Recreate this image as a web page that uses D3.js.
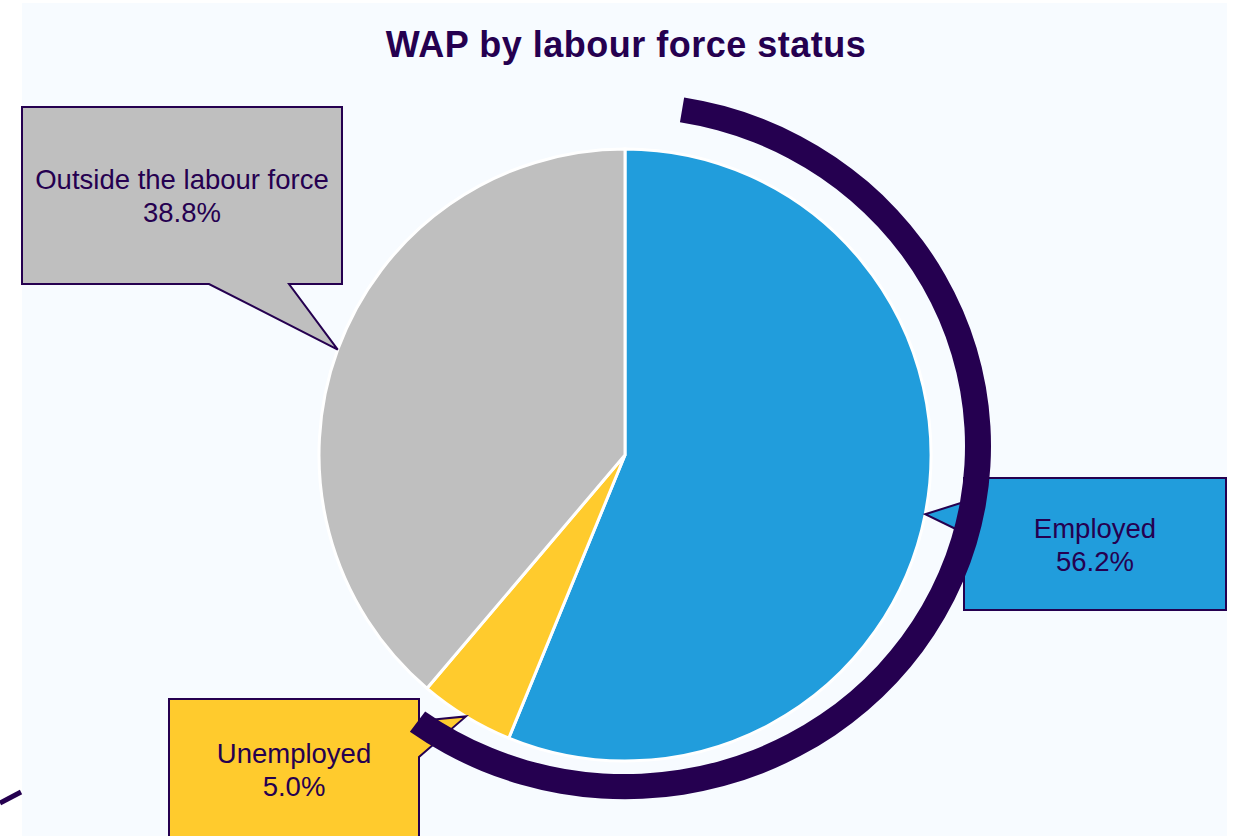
<!DOCTYPE html>
<html>
<head>
<meta charset="utf-8">
<script src="https://cdnjs.cloudflare.com/ajax/libs/d3/7.8.5/d3.min.js"></script>
<style>
  body { margin: 0; background: #ffffff; }
  svg { display: block; font-family: "Liberation Sans", Arial, sans-serif; }
</style>
</head>
<body>
<div id="chart"></div>
<script>
var categories = ["Employed", "Unemployed", "Outside the labour force"];
var shares = [56.2, 5.0, 38.8];
var sliceColors = ["#219ddc", "#ffcb2d", "#bfbfbf"];
var titleText = "WAP by labour force status";

var width = 1233;
var height = 836;
var dark = "#250050";

var center = { x: 625, y: 455 };
var radius = 306;

// callout boxes: rect + which side the pointer leaves from
var callouts = [
  { x: 964, y: 478, w: 262, h: 132, side: "left", b1: 24, b2: 55, ty: 60 },
  { x: 169, y: 699, w: 250, h: 150, side: "right", b1: 22, b2: 58, ty: 64 },
  { x: 22, y: 107, w: 320, h: 177, side: "bottom", b1: 187, b2: 267, ty: 82 }
];

var svg = d3.select("#chart")
  .append("svg")
  .attr("width", width)
  .attr("height", height);

svg.append("rect")
  .attr("x", 22).attr("y", 3)
  .attr("width", 1205).attr("height", height - 3)
  .style("fill", "#f7fbff");

// stray connector stub at the lower left
svg.append("line")
  .attr("x1", 0).attr("y1", 803)
  .attr("x2", 21).attr("y2", 792)
  .style("stroke", dark).style("stroke-width", 5);

svg.append("text")
  .attr("x", 626).attr("y", 57)
  .attr("text-anchor", "middle")
  .style("font-size", "36px").style("font-weight", "bold")
  .style("letter-spacing", "0.5px")
  .style("fill", dark)
  .text(titleText);

var pie = d3.pie().sort(null).value(function(d) { return d; });
var arcs = pie(shares);

var arc = d3.arc().innerRadius(0).outerRadius(radius);
var edgeArc = d3.arc().innerRadius(radius).outerRadius(radius);

var g = svg.append("g")
  .attr("transform", "translate(" + center.x + "," + center.y + ")");

g.selectAll("path.slice")
  .data(arcs)
  .enter()
  .append("path")
  .attr("class", "slice")
  .attr("d", arc)
  .style("fill", function(d, i) { return sliceColors[i]; })
  .style("stroke", "#ffffff")
  .style("stroke-width", 3);

//Callouts
arcs.forEach(function(d, i) {
  var c = callouts[i];
  var tip = edgeArc.centroid(d);
  var tx = center.x + tip[0];
  var ty = center.y + tip[1];
  var p;
  if (c.side == "left") {
    p = "M" + c.x + "," + c.y + "H" + (c.x + c.w) + "V" + (c.y + c.h) + "H" + c.x +
      "V" + (c.y + c.b2) + "L" + tx + "," + ty + "L" + c.x + "," + (c.y + c.b1) + "Z";
  } else if (c.side == "right") {
    p = "M" + c.x + "," + c.y + "H" + (c.x + c.w) + "V" + (c.y + c.b1) + "L" + tx + "," + ty +
      "L" + (c.x + c.w) + "," + (c.y + c.b2) + "V" + (c.y + c.h) + "H" + c.x + "Z";
  } else {
    p = "M" + c.x + "," + c.y + "H" + (c.x + c.w) + "V" + (c.y + c.h) + "H" + (c.x + c.b2) +
      "L" + tx + "," + ty + "L" + (c.x + c.b1) + "," + (c.y + c.h) + "H" + c.x + "Z";
  }
  svg.append("path")
    .attr("d", p)
    .style("fill", sliceColors[i])
    .style("stroke", dark)
    .style("stroke-width", 2);

  var t = svg.append("text")
    .attr("text-anchor", "middle")
    .style("font-size", "27.5px")
    .style("fill", dark);
  t.append("tspan").attr("x", c.x + c.w / 2).attr("y", c.y + c.ty).text(categories[i]);
  t.append("tspan").attr("x", c.x + c.w / 2).attr("y", c.y + c.ty + 33).text(d3.format(".1f")(shares[i]) + "%");
});

// labour force bracket, a slightly flattened ring drawn over everything
var bracket = d3.arc()
  .innerRadius(340)
  .outerRadius(366)
  .startAngle(9.3 * Math.PI / 180)
  .endAngle(216 * Math.PI / 180);

svg.append("path")
  .attr("transform", "translate(625,446) scale(1,0.965)")
  .attr("d", bracket())
  .style("fill", dark);
</script>
</body>
</html>
